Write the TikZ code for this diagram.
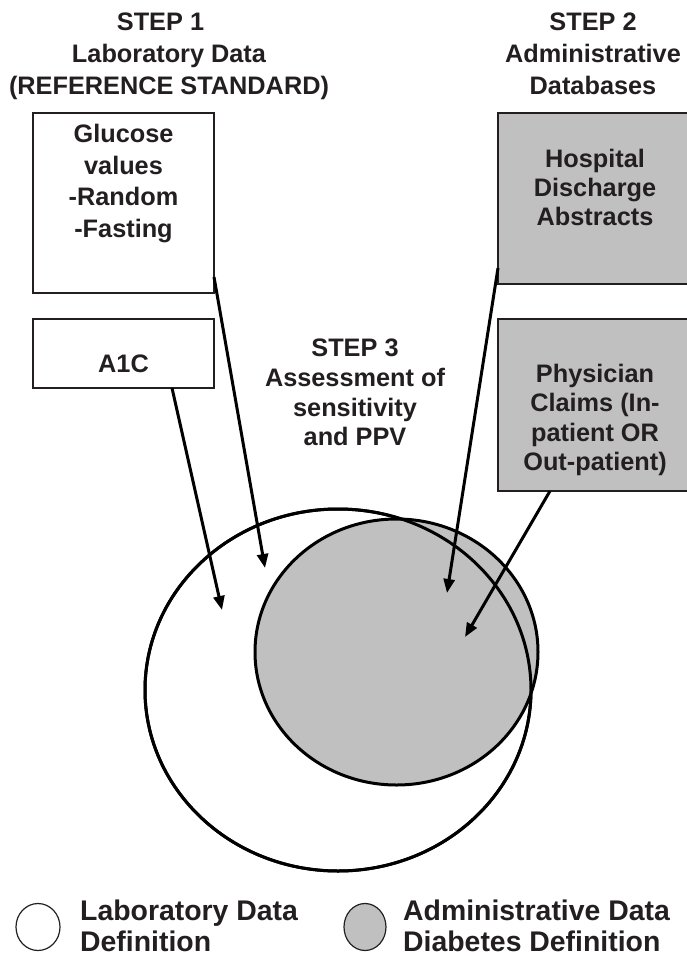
\documentclass[tikz,border=0pt]{standalone}
\usepackage{fontspec}
\setmainfont{Liberation Sans}
\usetikzlibrary{arrows.meta,shapes.geometric}
\definecolor{boxgray}{HTML}{C0C0C0}
\definecolor{inkc}{HTML}{231F20}
\begin{document}
\begin{tikzpicture}[x=1pt,y=-1pt,
  txt/.style={inner sep=0pt, align=center, anchor=north, text=inkc,
    font={\bfseries\fontsize{25.3pt}{#1}\selectfont}},
  legtxt/.style={inner sep=0pt, align=left, anchor=north west, text=inkc,
    font={\bfseries\fontsize{28.4pt}{31pt}\selectfont}},
  whitebox/.style={draw=inkc, line width=1.3pt, fill=white, inner sep=0pt},
  graybox/.style={draw=inkc, line width=1.3pt, fill=boxgray, inner sep=0pt},
  bigring/.style={ellipse, draw=black, line width=3pt, inner sep=0pt},
  legring/.style={ellipse, draw=inkc, line width=1.2pt, inner sep=0pt},
  arr/.style={line width=3pt, -{Triangle[length=14pt,width=11pt]}}
]
\useasboundingbox (0,0) rectangle (686,956);

% titles
\node[txt=32pt] (step1) at (169,13) {STEP 1\hspace*{17pt}\\Laboratory Data\\(REFERENCE STANDARD)};
\node[txt=32pt] (step2) at (593,13) {STEP 2\\Administrative\\Databases};
\node[txt=29.7pt] (step3) at (355,339) {STEP 3\\Assessment of\\sensitivity\\and PPV};

% boxes
\node[whitebox, minimum width=181pt, minimum height=180pt] (glu) at (123.5,203) {};
\node[whitebox, minimum width=181pt, minimum height=69pt] (aic) at (123.5,353.5) {};
\node[graybox, minimum width=194pt, minimum height=171pt] (hos) at (595,198.5) {};
\node[graybox, minimum width=194pt, minimum height=172pt] (phy) at (595,405) {};

\node[txt=31.5pt] (glut) at (123.5,124) {Glucose\\values\\-Random\\-Fasting};
\node[txt=30pt] (aict) at (123.5,355) {A1C};
\node[txt=29pt] (host) at (595,148.5) {Hospital\\Discharge\\Abstracts};
\node[txt=29.6pt] (phyt) at (595,363.5) {Physician\\Claims (In-\\patient OR\\Out-patient)};

% circles
\node[bigring, fill=white, minimum width=386pt, minimum height=362pt] (lab) at (338,690) {};
\node[bigring, fill=boxgray, minimum width=283pt, minimum height=266pt] (adm) at (396.5,652) {};
\draw[line width=3pt] (lab.center) ellipse [x radius=193, y radius=181];

% arrows
\coordinate (gs) at (214,277);
\coordinate (ge) at (265,568);
\coordinate (as) at (172,388);
\coordinate (ae) at (222,610);
\coordinate (hs) at (498,268);
\coordinate (he) at (447,593);
\coordinate (ps) at (550,491);
\coordinate (pe) at (465,637);
\draw[arr] (gs) -- (ge);
\draw[arr] (as) -- (ae);
\draw[arr] (hs) -- (he);
\draw[arr] (ps) -- (pe);

% legend
\node[legring, fill=white, minimum width=44pt, minimum height=47pt] (leg1) at (38,927) {};
\node[legring, fill=boxgray, minimum width=42pt, minimum height=47pt] (leg2) at (365,927) {};
\node[legtxt] (legt1) at (80,899.5) {Laboratory Data\\Definition};
\node[legtxt] (legt2) at (403,899.5) {Administrative Data\\Diabetes Definition};
\end{tikzpicture}
\end{document}
